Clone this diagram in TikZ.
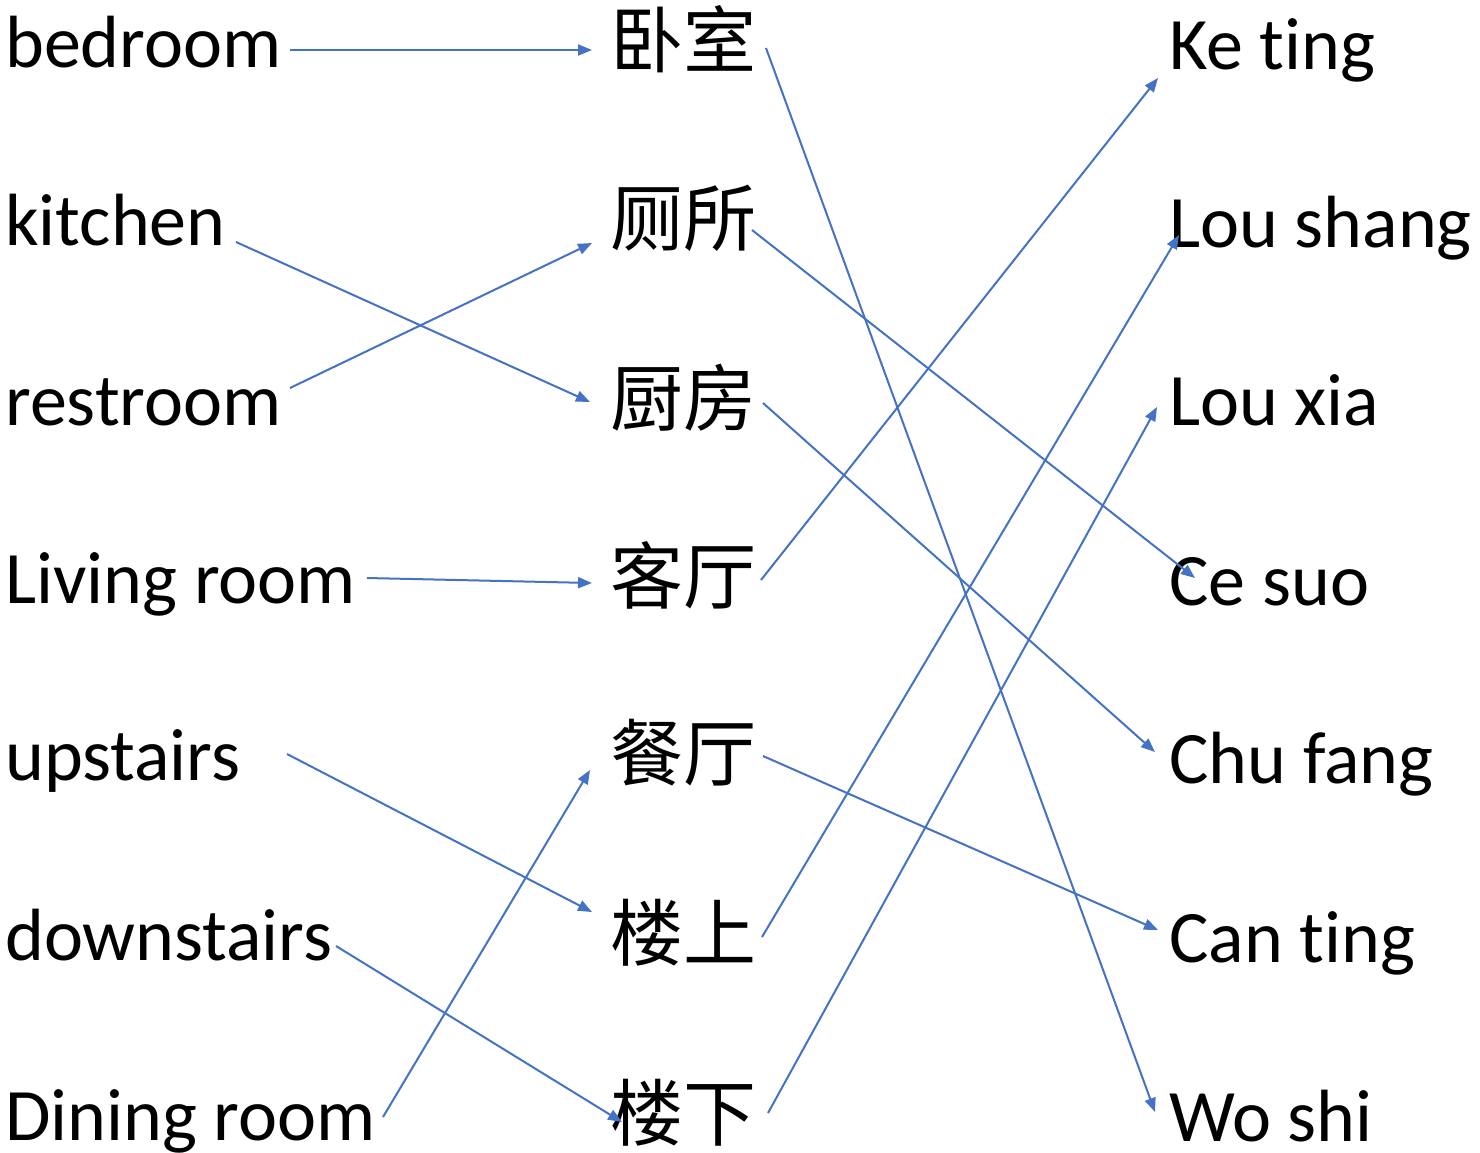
\documentclass[tikz,border=0pt]{standalone}
\usepackage{fontspec}
\setmainfont[Ligatures=NoCommon]{Carlito}
\newfontfamily\cjk{Noto Sans CJK SC}
\usetikzlibrary{arrows.meta}
\definecolor{lineblue}{HTML}{4472C4}
\begin{document}
\begin{tikzpicture}[x=1pt,y=-1pt,
  lbl/.style={anchor=base west,inner sep=0pt,font=\fontsize{74}{88}\selectfont},
  zh/.style={anchor=base west,inner sep=0pt,font=\cjk\fontsize{73}{88}\selectfont},
  arr/.style={draw=lineblue,line width=2pt,-{Triangle[length=14pt,width=11pt]}}]
\useasboundingbox (0,0) rectangle (1480,1152);
% left column
\node[lbl] (L1) at (5,67) {bedroom};
\node[lbl] (L2) at (5,245) {kitchen};
\node[lbl] (L3) at (5,425) {restroom};
\node[lbl] (L4) at (5,603) {Living room};
\node[lbl] (L5) at (5,780) {upstairs};
\node[lbl] (L6) at (5,960) {downstairs};
\node[lbl] (L7) at (5,1140) {Dining room};
% middle column
\node[zh] (M1) at (610,67) {卧室};
\node[zh] (M2) at (610,245) {厕所};
\node[zh] (M3) at (610,425) {厨房};
\node[zh] (M4) at (610,603) {客厅};
\node[zh] (M5) at (610,780) {餐厅};
\node[zh] (M6) at (610,960) {楼上};
\node[zh] (M7) at (610,1140) {楼下};
% right column
\node[lbl] (R1) at (1169,69) {Ke ting};
\node[lbl] (R2) at (1169,247) {Lou shang};
\node[lbl] (R3) at (1169,425) {Lou xia};
\node[lbl] (R4) at (1169,605) {Ce suo};
\node[lbl] (R5) at (1169,783) {Chu fang};
\node[lbl] (R6) at (1169,962) {Can ting};
\node[lbl] (R7) at (1169,1141) {Wo shi};
% left to middle
\draw[arr] ([shift={(285,-17)}]L1.base west) -- ([shift={(-18,-17)}]M1.base west);
\draw[arr] ([shift={(231,-3)}]L2.base west) -- ([shift={(-20,-23)}]M3.base west);
\draw[arr] ([shift={(285,-37)}]L3.base west) -- ([shift={(-18,-2)}]M2.base west);
\draw[arr] ([shift={(362,-25)}]L4.base west) -- ([shift={(-18,-20)}]M4.base west);
\draw[arr] ([shift={(282,-26)}]L5.base west) -- ([shift={(-18,-48)}]M6.base west);
\draw[arr] ([shift={(331,-14)}]L6.base west) -- ([shift={(12,-18)}]M7.base west);
\draw[arr] ([shift={(378,-23)}]L7.base west) -- ([shift={(-20,-10)}]M5.base west);
% middle to right
\draw[arr] ([shift={(156,-19)}]M1.base west) -- ([shift={(-14,-29)}]R7.base west);
\draw[arr] ([shift={(142,-15)}]M2.base west) -- ([shift={(26,-27)}]R4.base west);
\draw[arr] ([shift={(153,-22)}]M3.base west) -- ([shift={(-14,-31)}]R5.base west);
\draw[arr] ([shift={(151,-23)}]M4.base west) -- ([shift={(-11,9)}]R1.base west);
\draw[arr] ([shift={(153,-24)}]M5.base west) -- ([shift={(-11,-32)}]R6.base west);
\draw[arr] ([shift={(152,-23)}]M6.base west) -- ([shift={(10,-12)}]R2.base west);
\draw[arr] ([shift={(158,-27)}]M7.base west) -- ([shift={(-12,-18)}]R3.base west);
\end{tikzpicture}
\end{document}
